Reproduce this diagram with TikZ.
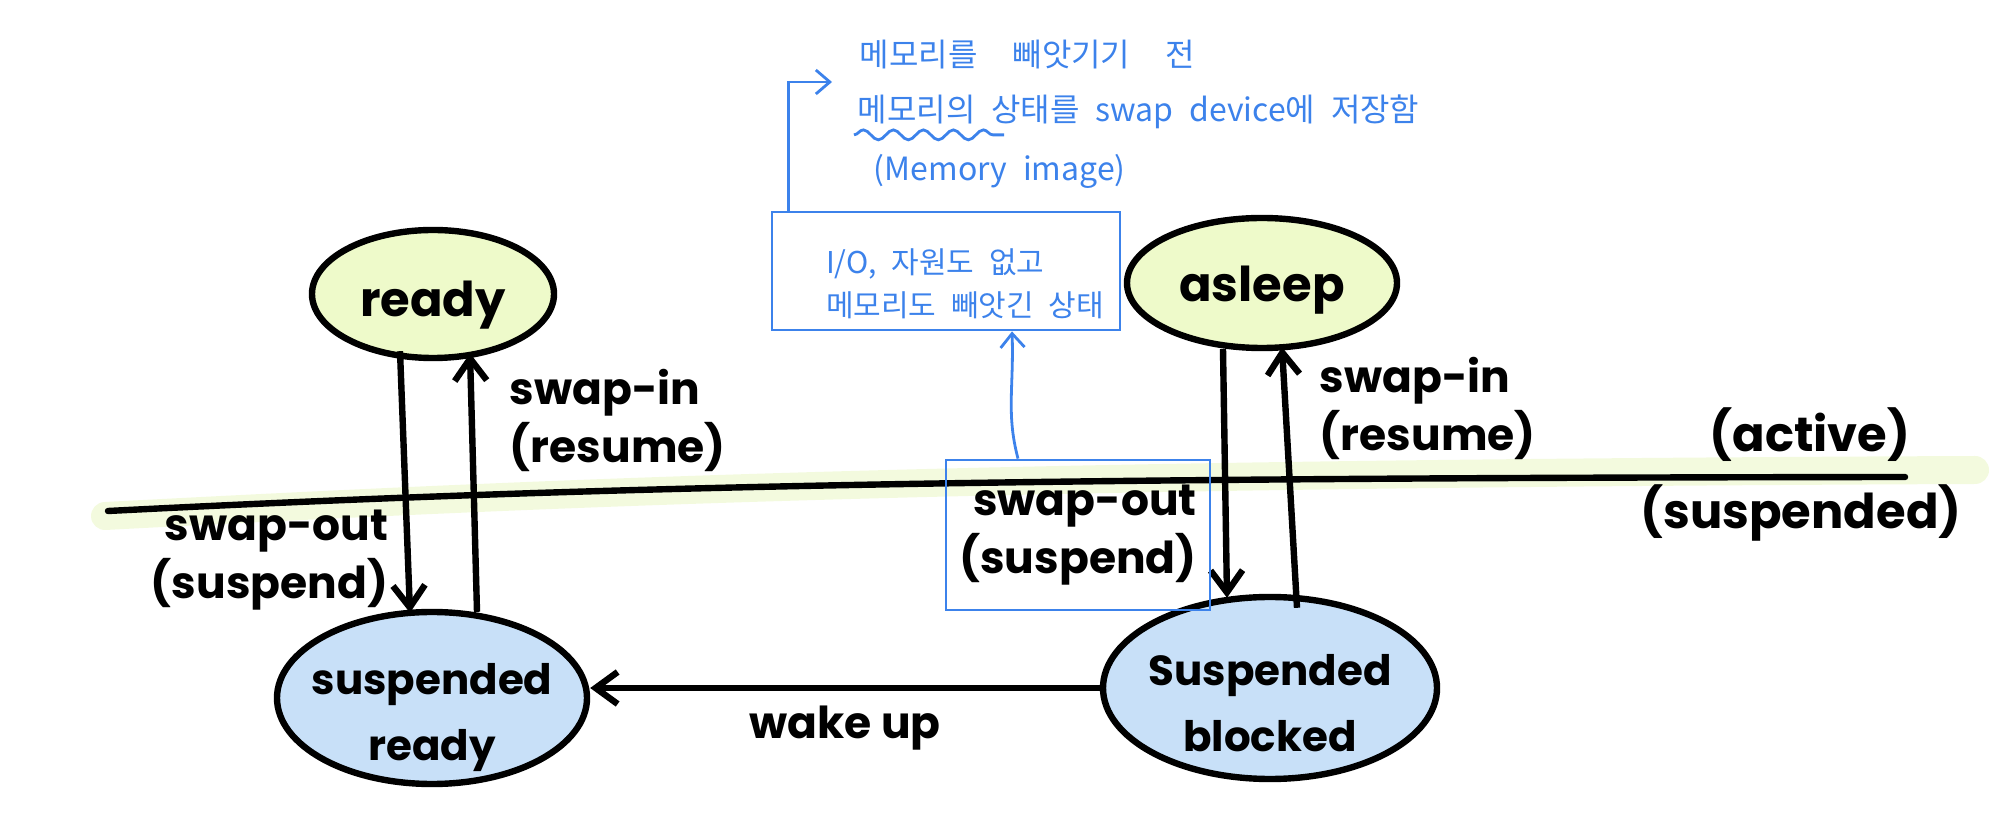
\documentclass[tikz,border=0pt]{standalone}
\usepackage{fontspec}
\setmainfont{Poppins}
\newfontfamily\kr[WordSpace=2.2]{Noto Sans CJK KR}
\usetikzlibrary{shapes.geometric,arrows.meta,decorations.pathmorphing}

\definecolor{inkblue}{RGB}{60,130,235}
\definecolor{activefill}{RGB}{238,250,202}
\definecolor{suspfill}{RGB}{200,224,248}
\definecolor{marker}{RGB}{243,250,222}
% text of a state, set with no size and lowered a little
\newcommand{\statetext}[2][-4pt]{\makebox[0pt]{\raisebox{#1}[0pt][0pt]{\begin{tabular}{@{}c@{}}#2\end{tabular}}}}

\tikzset{every picture/.style={line width=3.2pt}}
\tikzset{
  state/.style={ellipse, draw=black, line width=3.2pt, inner sep=0pt, font=\fontsize{24}{33}\selectfont\bfseries},
  active state/.style={state, fill=activefill},
  susp state/.style={state, fill=suspfill, font=\fontsize{21}{33}\selectfont\bfseries},
  hand/.style={font=\fontsize{22}{29}\selectfont\bfseries},
  memo/.style={inkblue, line width=1.4pt, >={Straight Barb[length=7pt,width=12pt]}},
  memotext/.style={text=inkblue, font=\kr\fontsize{16}{20}\selectfont},
}

\begin{document}
\begin{tikzpicture}[x=0.5pt,y=0.5pt,yscale=-1,xscale=1, >={Straight Barb[length=11pt,width=16pt]}]
\useasboundingbox (0,0) rectangle (1991,838);

%Marker under the border line
\draw [marker, line width=14pt, line cap=round] (105,516) .. controls (600,490) and (1000,474) .. (1975,470) ;
%Border line active / suspended
\draw [line cap=round] (108,511) .. controls (600,486) and (1000,478) .. (1905,477) ;

%Shape: Ellipse
\node [active state, minimum width=121pt, minimum height=64pt] (ready) at (433,294) {\statetext[-11pt]{ready}};
\node [active state, minimum width=135pt, minimum height=65pt] (asleep) at (1262,283) {\statetext[-9pt]{asleep}};
\node [susp state, minimum width=155pt, minimum height=86pt] (sready) at (432,698) {\statetext[-13.5pt]{suspended\\ready}};
\node [susp state, minimum width=167pt, minimum height=91pt] (sblocked) at (1270,688) {\statetext[-14pt]{Suspended\\blocked}};

%Straight Lines
\draw  [->] ([xshift=-16.5pt,yshift=-5pt]ready.south) -- ([xshift=-11pt,yshift=2pt]sready.north) ;
\draw  [->] ([xshift=22.5pt,yshift=1.5pt]sready.north) -- ([xshift=18.5pt,yshift=-4pt]ready.south) ;
\draw  [->] ([xshift=-19.5pt,yshift=-1pt]asleep.south) -- ([xshift=-21.5pt,yshift=2pt]sblocked.north) ;
\draw  [->] ([xshift=13.5pt,yshift=7pt]sblocked.north) -- ([xshift=10pt,yshift=-2pt]asleep.south) ;
\draw  [->] (sblocked.west) -- (sready.east |- sblocked.west) node [midway, yshift=-20pt, hand] (wakeup) {wake up} ;

% Text Node
\node [hand, align=right, anchor=east] (outL) at (398,560) {swap-out\\(suspend)};
\node [hand, align=left, anchor=west] (inL) at (500,420) {swap-in\\(resume)};
\node [hand, align=left, anchor=west] (inR) at (1310,408) {swap-in\\(resume)};
\node [hand, align=right, draw=inkblue, line width=1.4pt, minimum width=132pt, minimum height=75pt] (outM) at (1078,535) {swap-out\\(suspend)};
\node [hand, font=\fontsize{24}{29}\selectfont\bfseries] (activelbl) at (1810,435) {(active)};
\node [hand, font=\fontsize{24}{29}\selectfont\bfseries] (susplbl) at (1801,513) {(suspended)};

%Memo
\node [memotext, draw=inkblue, line width=1.4pt, inner sep=0pt, font=\kr\fontsize{15}{21.5}\selectfont, minimum width=174pt, minimum height=59pt] (info) at (946,271)
  {\makebox[174pt][l]{\hspace{27pt}\raisebox{-11.5pt}[0pt][0pt]{\begin{tabular}{@{}l@{}}I/O, 자원도 없고\\메모리도 빼앗긴 상태\end{tabular}}}};
\draw  [memo, ->] ([xshift=-30pt]outM.north) .. controls +(-12,-45) and +(2,55) .. ([xshift=33pt]info.south) ;

\coordinate (memotip) at (832,82);
\draw  [memo, ->] ([xshift=9pt]info.north west) |- (memotip) ;
\node [memotext, anchor=west] (memo1) at (850,55) {메모리를\hspace{0.6em} 빼앗기기\hspace{0.6em} 전};
\node [memotext, anchor=west] (memo2) at (848,112) {메모리의 상태를 swap device에 저장함};
\node [memotext, anchor=west] (memo3) at (864,171) {(Memory image)};
\draw  [memo, decorate, decoration={snake, amplitude=2.5pt, segment length=15pt}] ([xshift=3pt,yshift=-2pt]memo2.south west) -- ++(150,0) ;
\end{tikzpicture}
\end{document}
